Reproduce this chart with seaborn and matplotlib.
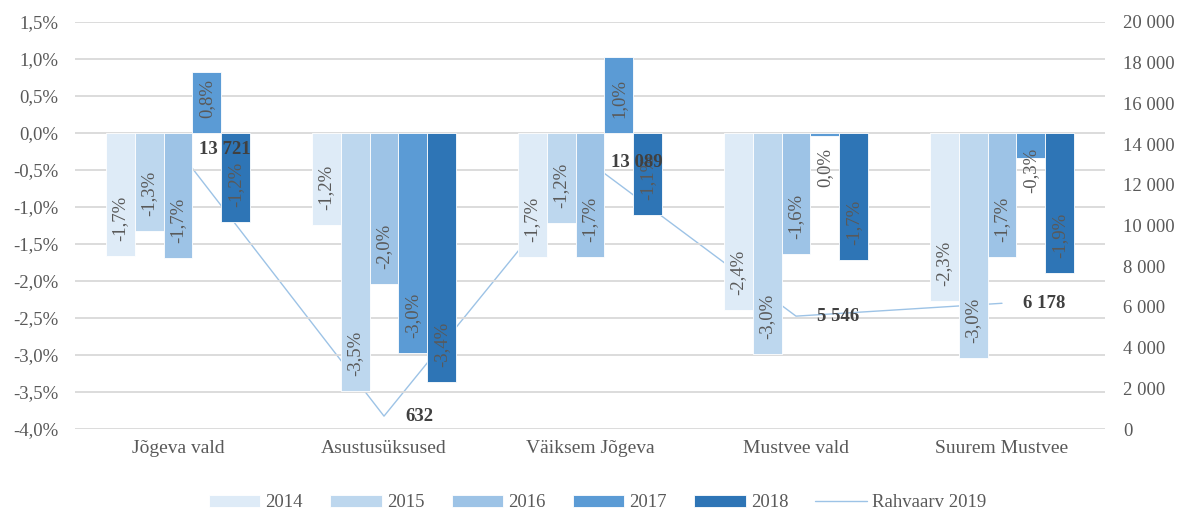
import pandas as pd
import numpy as np
import seaborn as sns
import matplotlib.pyplot as plt
from matplotlib.ticker import FuncFormatter, MultipleLocator

# data
categories = ["Jõgeva vald", "Asustusüksused", "Väiksem Jõgeva", "Mustvee vald", "Suurem Mustvee"]
years = ["2014", "2015", "2016", "2017", "2018"]
ch2014 = [-1.66, -1.24, -1.68, -2.39, -2.27]
ch2015 = [-1.32, -3.49, -1.21, -2.99, -3.04]
ch2016 = [-1.69, -2.04, -1.68, -1.64, -1.68]
ch2017 = [0.82, -2.97, 1.03, -0.04, -0.34]
ch2018 = [-1.20, -3.36, -1.11, -1.72, -1.89]
pop2019 = [13721, 632, 13089, 5546, 6178]
line_name = "Rahvaarv 2019"

colors = ["#deebf7", "#bdd7ee", "#9dc3e6", "#5b9bd5", "#2e75b6"]
line_color = "#9dc3e6"
text_gray = "#595959"

rows = []
for year, vals in zip(years, [ch2014, ch2015, ch2016, ch2017, ch2018]):
    for cat, v in zip(categories, vals):
        rows.append({"Piirkond": cat, "Aasta": year, "Muutus": v})
df = pd.DataFrame(rows)

sns.set_theme(style="white")
plt.rcParams["font.family"] = ["Liberation Serif", "DejaVu Serif"]

fig = plt.figure(figsize=(11.81, 5.11), dpi=100)
ax = fig.add_axes([75 / 1181, 82 / 511, 1030 / 1181, 407 / 511])
ax2 = ax.twinx()

sns.barplot(data=df, x="Piirkond", y="Muutus", hue="Aasta", palette=colors,
            width=0.7, saturation=1, edgecolor="white", linewidth=0.6, ax=ax)
sns.lineplot(x=np.arange(len(categories)), y=pop2019, color=line_color,
             linewidth=1, ax=ax2, label=line_name)

# bars above the line
ax.set_zorder(ax2.get_zorder() + 1)
ax.patch.set_visible(False)

ax.set_xlim(-0.5, len(categories) - 0.5)
ax.set_ylim(-4.0, 1.5)
ax.yaxis.set_major_locator(MultipleLocator(0.5))
ax.yaxis.set_major_formatter(FuncFormatter(lambda v, p: f"{v:.1f}%".replace(".", ",")))
ax.yaxis.grid(True, color="#d9d9d9", linewidth=1.3)
ax.set_axisbelow(True)
ax.set_xlabel("")
ax.set_ylabel("")
ax.tick_params(axis="y", length=0, pad=12, labelsize=13.5, labelcolor=text_gray)
ax.tick_params(axis="x", length=0, pad=8, labelsize=14, labelcolor=text_gray)

ax2.set_ylim(0, 20000)
ax2.yaxis.set_major_locator(MultipleLocator(2000))
ax2.yaxis.set_major_formatter(FuncFormatter(lambda v, p: f"{int(v):,}".replace(",", " ")))
ax2.tick_params(axis="y", length=0, pad=13, labelsize=13.5, labelcolor=text_gray)
ax2.set_ylabel("")
ax2.grid(False)
for a in (ax, ax2):
    for s in a.spines.values():
        s.set_visible(False)

# bar labels, rotated, inside the bar end
px_per_pct = 407 / 5.5
label_len = 50
for cont in ax.containers:
    for bar in cont:
        v = bar.get_height()
        x = bar.get_x() + bar.get_width() / 2
        txt = f"{v:.1f}%".replace(".", ",")
        if round(v, 1) == 0:
            txt = "0,0%"
        fits = abs(v) * px_per_pct - 30 >= label_len
        if v < 0:
            if fits:
                xy, off, va = (x, v), 15, "bottom"
            else:
                xy, off, va = (x, 0), -15, "top"
        else:
            if fits:
                xy, off, va = (x, v), -15, "top"
            else:
                xy, off, va = (x, 0), 15, "bottom"
        ax.annotate(txt, xy=xy, xytext=(0, off), textcoords="offset pixels",
                    rotation=90, ha="center", va=va, fontsize=13.5, color=text_gray)

# line labels on top of everything
for i, p in enumerate(pop2019):
    ax.annotate(f"{p:,}".replace(",", " "), xy=(i, p), xycoords=ax2.transData,
                xytext=(21, 0), textcoords="offset pixels", ha="left", va="center",
                fontsize=13.5, fontweight="bold", color="#404040")

handles, labels = ax.get_legend_handles_labels()
h2, l2 = ax2.get_legend_handles_labels()
ax.get_legend().remove()
if ax2.get_legend() is not None:
    ax2.get_legend().remove()
leg = fig.legend(handles + h2, labels + l2, loc="center", bbox_to_anchor=(0.506, 0.016),
                 ncol=6, frameon=False, fontsize=13.5, handlelength=2.75, handleheight=0.6,
                 handletextpad=0.27, columnspacing=1.45)
for t in leg.get_texts():
    t.set_color(text_gray)

fig.savefig("out.png", dpi=100)
